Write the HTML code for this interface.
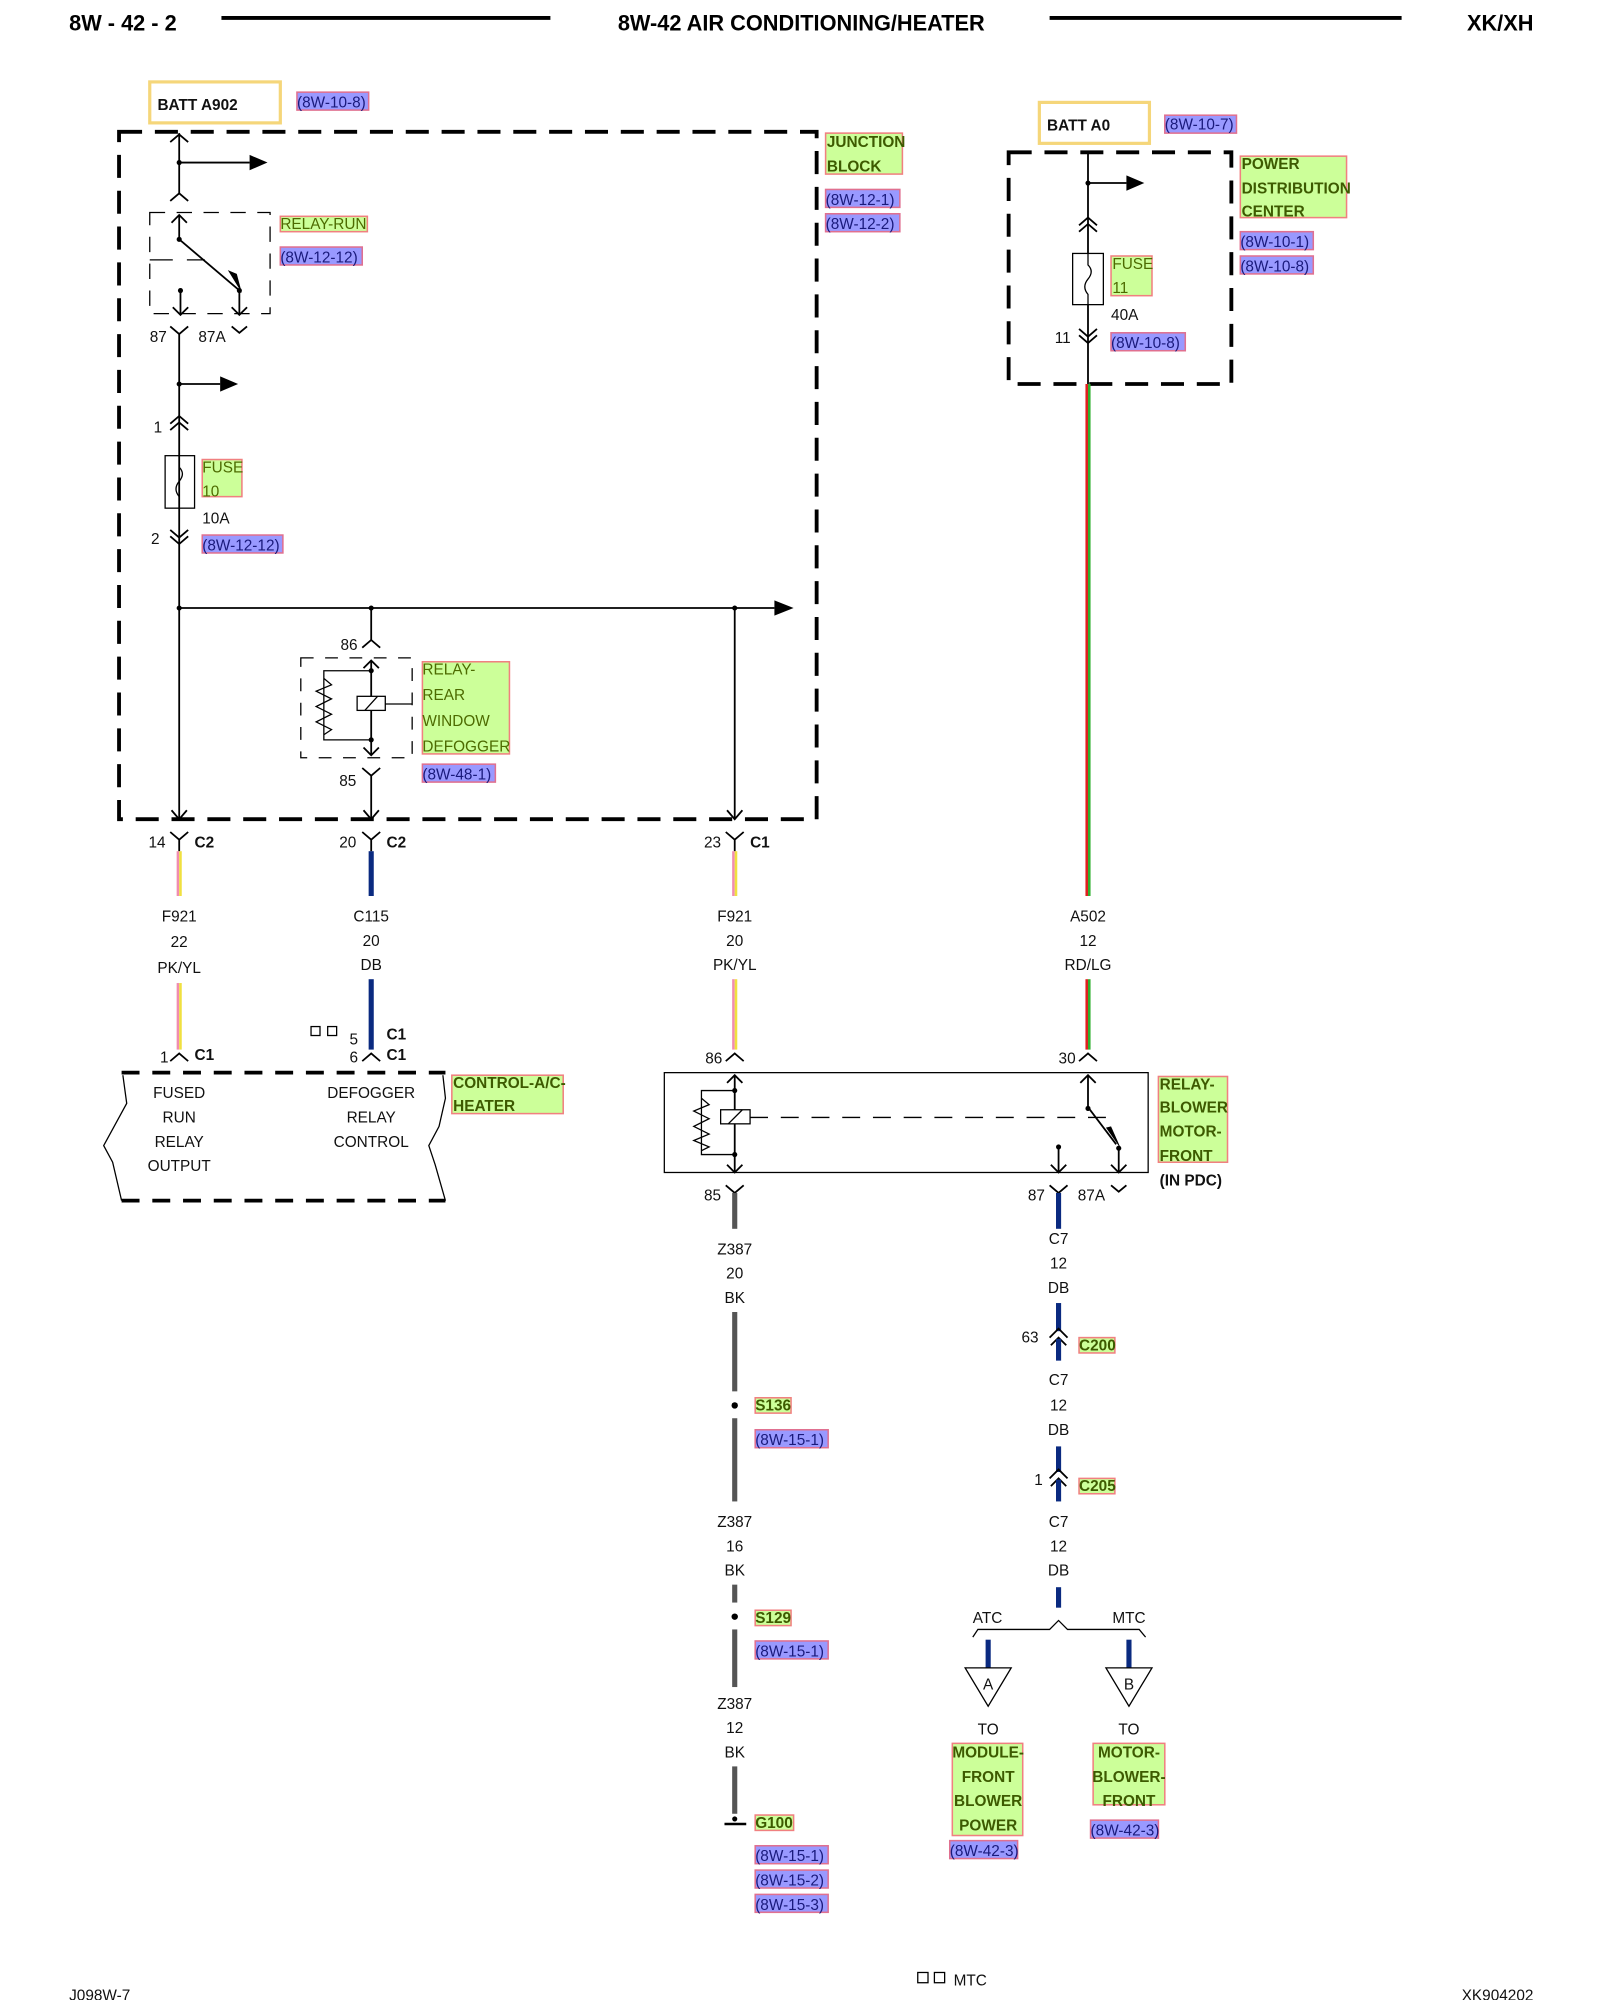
<!DOCTYPE html>
<html><head><meta charset="utf-8"><style>
html,body{margin:0;padding:0;background:#fff;}
svg{display:block;}
text{font-family:"Liberation Sans",Arial,sans-serif;}
.t{font-size:12px;fill:#111;}
.tb{font-size:12px;fill:#111;font-weight:bold;}
.g{fill:#ccff99;stroke:#f08080;stroke-width:1.2;}
.gt{font-size:12px;fill:#4d6b00;}
.gtb{font-size:12px;fill:#3d5a00;font-weight:bold;}
.b{fill:#9999ff;stroke:#e07090;stroke-width:1.2;}
.bt{font-size:12px;fill:#1a1a7c;}
.w{stroke:#000;stroke-width:1.4;fill:none;}
</style></head><body>
<svg width="1600" height="2000" viewBox="0 0 1250 1562.5" xmlns="http://www.w3.org/2000/svg">
<!-- header -->
<text x="54" y="24" style="font-size:17px;font-weight:bold">8W - 42 - 2</text>
<line x1="173" y1="14" x2="430" y2="14" stroke="#000" stroke-width="3"/>
<text x="626" y="24" text-anchor="middle" style="font-size:17px;font-weight:bold">8W-42 AIR CONDITIONING/HEATER</text>
<line x1="820" y1="14" x2="1095" y2="14" stroke="#000" stroke-width="3"/>
<text x="1198" y="24" text-anchor="end" style="font-size:17px;font-weight:bold">XK/XH</text>

<!-- BATT A902 -->
<rect x="117" y="64" width="102" height="32" fill="none" stroke="#f5d67a" stroke-width="2.5"/>
<text x="123" y="86" class="tb">BATT A902</text>
<rect x="232" y="72" width="56" height="14" class="b"/><text x="232" y="84" class="bt">(8W-10-8)</text>

<!-- junction block -->
<rect x="93" y="103" width="545" height="537" fill="none" stroke="#000" stroke-width="3" stroke-dasharray="18,10"/>
<rect x="645" y="104" width="60" height="32" class="g"/><text x="646" y="115" class="gtb">JUNCTION</text><text x="646" y="134" class="gtb">BLOCK</text>
<rect x="645" y="148" width="58" height="14" class="b"/><text x="645" y="160" class="bt">(8W-12-1)</text>
<rect x="645" y="167" width="58" height="14" class="b"/><text x="645" y="179" class="bt">(8W-12-2)</text>

<g class="w">
<path d="M140,104 V152"/><path d="M133,111 L140,105 L147,111"/>
<path d="M140,127 H195"/>
<path d="M133,157 L140,151 L147,157"/>
</g>
<polygon points="195,121 209,127 195,133" fill="#000"/>
<circle cx="140" cy="127" r="2" fill="#000"/>
<!-- relay run -->
<rect x="117" y="166" width="94" height="79" fill="none" stroke="#000" stroke-width="1" stroke-dasharray="12,9"/>
<g class="w">
<path d="M140,168 V187"/><path d="M134,174 L140,168 L146,174"/>
<path d="M140,187 L186,226"/>
<path d="M117,203 H135 M146,203 H160" stroke-width="1"/>
<path d="M141,227 V246"/><path d="M135,240 L141,246 L147,240"/>
<path d="M187,227 V246"/><path d="M181,240 L187,246 L193,240"/>
<path d="M133,255 L140,261 L147,255"/><path d="M140,261 V640"/>
<path d="M181,255 L187,260 L193,255"/>
</g>
<polygon points="178,211 189,229 185,214" fill="#000"/>
<circle cx="140" cy="187" r="2" fill="#000"/><circle cx="141" cy="227" r="2" fill="#000"/><circle cx="187" cy="227" r="2" fill="#000"/>
<text x="117" y="267" class="t">87</text><text x="155" y="267" class="t">87A</text>
<rect x="219" y="169" width="68" height="12" class="g"/><text x="219" y="179" class="gt">RELAY-RUN</text>
<rect x="219" y="193" width="64" height="14" class="b"/><text x="219" y="205" class="bt">(8W-12-12)</text>
<circle cx="140" cy="300" r="2" fill="#000"/>
<path d="M140,300 H172" class="w"/><polygon points="172,294 186,300 172,306" fill="#000"/>
<g class="w">
<path d="M133,331 L140,325 L147,331 M133,336 L140,330 L147,336"/>
<rect x="129" y="356" width="23" height="41" stroke-width="1"/>
<path d="M140,356 V365 Q145,370 140,376 Q135,382 140,388 V397" stroke-width="1"/>
<path d="M133,414 L140,420 L147,414 M133,419 L140,425 L147,419"/>
</g>
<text x="120" y="338" class="t">1</text><text x="118" y="425" class="t">2</text>
<rect x="158" y="359" width="31" height="29" class="g"/><text x="158" y="369" class="gt">FUSE</text><text x="158" y="388" class="gt">10</text>
<text x="158" y="409" class="t">10A</text>
<rect x="158" y="418" width="63" height="14" class="b"/><text x="158" y="430" class="bt">(8W-12-12)</text>

<!-- bus -->
<path d="M140,475 H605" class="w"/><polygon points="605,469 620,475 605,481" fill="#000"/>
<circle cx="140" cy="475" r="2" fill="#000"/><circle cx="290" cy="475" r="2" fill="#000"/><circle cx="574" cy="475" r="2" fill="#000"/>
<g class="w">
<path d="M290,475 V500"/><path d="M283,506 L290,500 L297,506"/>
<rect x="235" y="514" width="87" height="78" stroke-width="1" stroke-dasharray="10,9"/>
<path d="M290,516 V590"/><path d="M284,522 L290,516 L296,522"/><path d="M284,584 L290,590 L296,584"/>
<path d="M290,524 H253 V578 H290" stroke-width="1"/>
<path d="M253,530 L259,535 L247,540 L259,546 L247,552 L259,558 L247,564 L259,570 L253,574" stroke-width="1"/>
<rect x="279" y="544" width="22" height="11" stroke-width="1" fill="#fff"/><path d="M285,555 L295,544" stroke-width="1"/>
<path d="M301,550 H322" stroke-width="1"/>
<path d="M283,600 L290,606 L297,600"/><path d="M290,606 V640"/>
<path d="M574,475 V640"/>
</g>
<circle cx="290" cy="524" r="2" fill="#000"/><circle cx="290" cy="578" r="2" fill="#000"/>
<text x="266" y="508" class="t">86</text><text x="265" y="614" class="t">85</text>
<rect x="330" y="517" width="68" height="72" class="g"/>
<text x="330" y="527" class="gt">RELAY-</text><text x="330" y="547" class="gt">REAR</text><text x="330" y="567" class="gt">WINDOW</text><text x="330" y="587" class="gt">DEFOGGER</text>
<rect x="330" y="597" width="57" height="14" class="b"/><text x="330" y="609" class="bt">(8W-48-1)</text>
<g class="w">
<path d="M134,633 L140,640 L146,633"/><path d="M284,633 L290,640 L296,633"/><path d="M568,633 L574,640 L580,633"/>
<path d="M133,650 L140,656 L147,650 M140,656 V665"/>
<path d="M283,650 L290,656 L297,650 M290,656 V665"/>
<path d="M567,650 L574,656 L581,650 M574,656 V665"/>
</g>
<text x="116" y="662" class="t">14</text><text x="152" y="662" class="tb">C2</text>
<text x="265" y="662" class="t">20</text><text x="302" y="662" class="tb">C2</text>
<text x="550" y="662" class="t">23</text><text x="586" y="662" class="tb">C1</text>
<!-- wires -->
<rect x="138" y="665" width="2" height="35" fill="#f08cb0"/><rect x="140" y="665" width="2" height="35" fill="#f0e040"/>
<rect x="288" y="665" width="4" height="35" fill="#0a2a80"/>
<rect x="572" y="665" width="2" height="35" fill="#f08cb0"/><rect x="574" y="665" width="2" height="35" fill="#f0e040"/>
<g class="t" text-anchor="middle">
<text x="140" y="720">F921</text><text x="140" y="740">22</text><text x="140" y="760">PK/YL</text>
<text x="290" y="720">C115</text><text x="290" y="739">20</text><text x="290" y="758">DB</text>
<text x="574" y="720">F921</text><text x="574" y="739">20</text><text x="574" y="758">PK/YL</text>
<text x="850" y="720">A502</text><text x="850" y="739">12</text><text x="850" y="758">RD/LG</text>
</g>
<rect x="138" y="768" width="2" height="52" fill="#f08cb0"/><rect x="140" y="768" width="2" height="52" fill="#f0e040"/>
<rect x="288" y="765" width="4" height="55" fill="#0a2a80"/>
<rect x="572" y="765" width="2" height="55" fill="#f08cb0"/><rect x="574" y="765" width="2" height="55" fill="#f0e040"/>
<g class="w">
<path d="M133,829 L140,823 L147,829"/><path d="M283,829 L290,823 L297,829"/>
<path d="M567,829 L574,823 L581,829"/><path d="M843,829 L850,823 L857,829"/>
</g>
<text x="125" y="830" class="t">1</text><text x="152" y="828" class="tb">C1</text>
<rect x="243" y="802" width="7" height="7" fill="none" stroke="#000" stroke-width="1"/><rect x="256" y="802" width="7" height="7" fill="none" stroke="#000" stroke-width="1"/>
<text x="273" y="816" class="t">5</text><text x="302" y="812" class="tb">C1</text>
<text x="273" y="830" class="t">6</text><text x="302" y="828" class="tb">C1</text>
<text x="551" y="831" class="t">86</text><text x="827" y="831" class="t">30</text>
<!-- control box -->
<path d="M95,838 H348 M95,938 H348" stroke="#000" stroke-width="3" stroke-dasharray="14,10"/>
<path d="M96,840 L99,862 L93,873 L81,895 L88,908 L95,938" fill="none" stroke="#000" stroke-width="1"/>
<path d="M346,840 L348,858 L343,880 L335,895 L340,910 L348,938" fill="none" stroke="#000" stroke-width="1"/>
<g class="t" text-anchor="middle">
<text x="140" y="858">FUSED</text><text x="140" y="877">RUN</text><text x="140" y="896">RELAY</text><text x="140" y="915">OUTPUT</text>
<text x="290" y="858">DEFOGGER</text><text x="290" y="877">RELAY</text><text x="290" y="896">CONTROL</text>
</g>
<rect x="353" y="840" width="87" height="30" class="g"/><text x="354" y="850" class="gtb">CONTROL-A/C-</text><text x="354" y="868" class="gtb">HEATER</text>

<!-- PDC -->
<rect x="812" y="80" width="86" height="32" fill="none" stroke="#f5d67a" stroke-width="2.5"/>
<text x="818" y="102" class="tb">BATT A0</text>
<rect x="910" y="90" width="56" height="14" class="b"/><text x="910" y="101" class="bt">(8W-10-7)</text>
<rect x="788" y="119" width="174" height="181" fill="none" stroke="#000" stroke-width="3" stroke-dasharray="18,10"/>
<rect x="969" y="122" width="83" height="48" class="g"/>
<text x="970" y="132" class="gtb">POWER</text><text x="970" y="151" class="gtb">DISTRIBUTION</text><text x="970" y="169" class="gtb">CENTER</text>
<rect x="969" y="181" width="57" height="14" class="b"/><text x="969" y="193" class="bt">(8W-10-1)</text>
<rect x="969" y="200" width="57" height="14" class="b"/><text x="969" y="212" class="bt">(8W-10-8)</text>
<g class="w">
<path d="M850,119 V300"/>
<path d="M850,143 H880"/>
<path d="M843,176 L850,170 L857,176 M843,181 L850,175 L857,181"/>
<rect x="838" y="198" width="24" height="40" fill="#fff" stroke-width="1"/>
<path d="M850,198 V207 Q855,212 850,218 Q845,224 850,230 V238" stroke-width="1"/>
<path d="M843,257 L850,263 L857,257 M843,262 L850,268 L857,262"/>
</g>
<polygon points="880,137 894,143 880,149" fill="#000"/>
<circle cx="850" cy="143" r="2" fill="#000"/>
<rect x="868" y="200" width="32" height="31" class="g"/><text x="869" y="210" class="gt">FUSE</text><text x="869" y="229" class="gt">11</text>
<text x="868" y="250" class="t">40A</text><text x="824" y="268" class="t">11</text>
<rect x="868" y="260" width="58" height="14" class="b"/><text x="868" y="272" class="bt">(8W-10-8)</text>
<rect x="848" y="300" width="2" height="400" fill="#e02020"/><rect x="850" y="300" width="2" height="400" fill="#30b030"/>
<rect x="848" y="765" width="2" height="55" fill="#e02020"/><rect x="850" y="765" width="2" height="55" fill="#30b030"/>

<!-- blower relay -->
<rect x="519" y="838" width="378" height="78" fill="none" stroke="#000" stroke-width="1"/>
<g class="w">
<path d="M574,840 V916"/><path d="M568,846 L574,840 L580,846"/><path d="M568,910 L574,916 L580,910"/>
<path d="M574,852 H548 V902 H574" stroke-width="1"/>
<path d="M548,858 L554,863 L542,868 L554,874 L542,880 L554,886 L542,891 L554,896 L548,899" stroke-width="1"/>
<rect x="563" y="867" width="23" height="11" fill="#fff" stroke-width="1"/><path d="M569,878 L580,867" stroke-width="1"/>
<path d="M586,873 H866" stroke-width="1" stroke-dasharray="14,10"/>
<path d="M850,840 V866"/><path d="M844,846 L850,840 L856,846"/>
<path d="M850,865 L872,894"/>
<path d="M874,897 V916"/><path d="M868,910 L874,916 L880,910"/>
<path d="M827,897 V916"/><path d="M821,910 L827,916 L833,910"/>
<path d="M567,926 L574,932 L581,926"/><path d="M820,926 L827,932 L834,926"/><path d="M868,926 L874,931 L880,926"/>
</g>
<polygon points="864,881 876,898 868,880" fill="#000"/>
<circle cx="574" cy="852" r="2" fill="#000"/><circle cx="574" cy="902" r="2" fill="#000"/>
<circle cx="850" cy="866" r="2" fill="#000"/><circle cx="874" cy="897" r="2" fill="#000"/><circle cx="827" cy="896" r="2" fill="#000"/>
<rect x="905" y="841" width="54" height="67" class="g"/>
<text x="906" y="851" class="gtb">RELAY-</text><text x="906" y="869" class="gtb">BLOWER</text><text x="906" y="888" class="gtb">MOTOR-</text><text x="906" y="907" class="gtb">FRONT</text>
<text x="906" y="926" class="tb">(IN PDC)</text>
<text x="550" y="938" class="t">85</text><text x="803" y="938" class="t">87</text><text x="842" y="938" class="t">87A</text>

<!-- Z387 -->
<rect x="572" y="932" width="4" height="28" fill="#555"/>
<g class="t" text-anchor="middle">
<text x="574" y="980">Z387</text><text x="574" y="999">20</text><text x="574" y="1018">BK</text>
<text x="574" y="1193">Z387</text><text x="574" y="1212">16</text><text x="574" y="1231">BK</text>
<text x="574" y="1335">Z387</text><text x="574" y="1354">12</text><text x="574" y="1373">BK</text>
</g>
<rect x="572" y="1025" width="4" height="62" fill="#555"/>
<circle cx="574" cy="1098" r="2.5" fill="#000"/>
<rect x="572" y="1108" width="4" height="65" fill="#555"/>
<rect x="572" y="1238" width="4" height="14" fill="#555"/>
<circle cx="574" cy="1263" r="2.5" fill="#000"/>
<rect x="572" y="1273" width="4" height="45" fill="#555"/>
<rect x="572" y="1380" width="4" height="37" fill="#555"/>
<path d="M566,1425 H583" stroke="#000" stroke-width="2"/><circle cx="574" cy="1421" r="2" fill="#000"/>
<rect x="590" y="1092" width="28" height="12" class="g"/><text x="590" y="1102" class="gtb">S136</text>
<rect x="590" y="1117" width="57" height="14" class="b"/><text x="590" y="1129" class="bt">(8W-15-1)</text>
<rect x="590" y="1258" width="28" height="12" class="g"/><text x="590" y="1268" class="gtb">S129</text>
<rect x="590" y="1282" width="57" height="14" class="b"/><text x="590" y="1294" class="bt">(8W-15-1)</text>
<rect x="590" y="1418" width="30" height="12" class="g"/><text x="590" y="1428" class="gtb">G100</text>
<rect x="590" y="1442" width="57" height="14" class="b"/><text x="590" y="1454" class="bt">(8W-15-1)</text>
<rect x="590" y="1461" width="57" height="14" class="b"/><text x="590" y="1473" class="bt">(8W-15-2)</text>
<rect x="590" y="1480" width="57" height="14" class="b"/><text x="590" y="1492" class="bt">(8W-15-3)</text>

<!-- C7 -->
<rect x="825" y="932" width="4" height="28" fill="#0a2a80"/>
<g class="t" text-anchor="middle">
<text x="827" y="972">C7</text><text x="827" y="991">12</text><text x="827" y="1010">DB</text>
<text x="827" y="1082">C7</text><text x="827" y="1102">12</text><text x="827" y="1121">DB</text>
<text x="827" y="1193">C7</text><text x="827" y="1212">12</text><text x="827" y="1231">DB</text>
</g>
<rect x="825" y="1018" width="4" height="22" fill="#0a2a80"/>
<path d="M820,1045 L827,1038 L834,1045 M821,1051 L827,1045 L833,1051" class="w"/>
<rect x="825" y="1046" width="4" height="17" fill="#0a2a80"/>
<text x="798" y="1049" class="t">63</text>
<rect x="843" y="1045" width="28" height="12" class="g"/><text x="843" y="1055" class="gtb">C200</text>
<rect x="825" y="1130" width="4" height="20" fill="#0a2a80"/>
<path d="M820,1155 L827,1148 L834,1155 M821,1161 L827,1155 L833,1161" class="w"/>
<rect x="825" y="1156" width="4" height="17" fill="#0a2a80"/>
<text x="808" y="1160" class="t">1</text>
<rect x="843" y="1155" width="28" height="12" class="g"/><text x="843" y="1165" class="gtb">C205</text>
<rect x="825" y="1240" width="4" height="16" fill="#0a2a80"/>
<path d="M760,1279 L764,1273 H820 L827,1266 L834,1273 H890 L895,1279" fill="none" stroke="#000" stroke-width="1"/>
<text x="760" y="1268" class="t">ATC</text><text x="869" y="1268" class="t">MTC</text>
<rect x="770" y="1281" width="4" height="22" fill="#0a2a80"/>
<rect x="880" y="1281" width="4" height="22" fill="#0a2a80"/>
<polygon points="754,1303 790,1303 772,1333" fill="#fff" stroke="#000" stroke-width="1"/>
<polygon points="864,1303 900,1303 882,1333" fill="#fff" stroke="#000" stroke-width="1"/>
<text x="772" y="1320" class="t" text-anchor="middle">A</text><text x="882" y="1320" class="t" text-anchor="middle">B</text>
<text x="772" y="1355" class="t" text-anchor="middle">TO</text><text x="882" y="1355" class="t" text-anchor="middle">TO</text>
<rect x="744" y="1362" width="55" height="72" class="g"/>
<g class="gtb" text-anchor="middle"><text x="772" y="1373">MODULE-</text><text x="772" y="1392">FRONT</text><text x="772" y="1411">BLOWER</text><text x="772" y="1430">POWER</text></g>
<rect x="742" y="1438" width="53" height="14" class="b"/><text x="742" y="1450" class="bt">(8W-42-3)</text>
<rect x="854" y="1362" width="56" height="48" class="g"/>
<g class="gtb" text-anchor="middle"><text x="882" y="1373">MOTOR-</text><text x="882" y="1392">BLOWER-</text><text x="882" y="1411">FRONT</text></g>
<rect x="852" y="1422" width="53" height="14" class="b"/><text x="852" y="1434" class="bt">(8W-42-3)</text>

<!-- footer -->
<text x="54" y="1563" class="t">J098W-7</text>
<rect x="717" y="1541" width="8" height="8" fill="none" stroke="#000" stroke-width="1"/><rect x="730" y="1541" width="8" height="8" fill="none" stroke="#000" stroke-width="1"/>
<text x="745" y="1551" class="t">MTC</text>
<text x="1198" y="1563" class="t" text-anchor="end">XK904202</text>
</svg>
</body></html>
